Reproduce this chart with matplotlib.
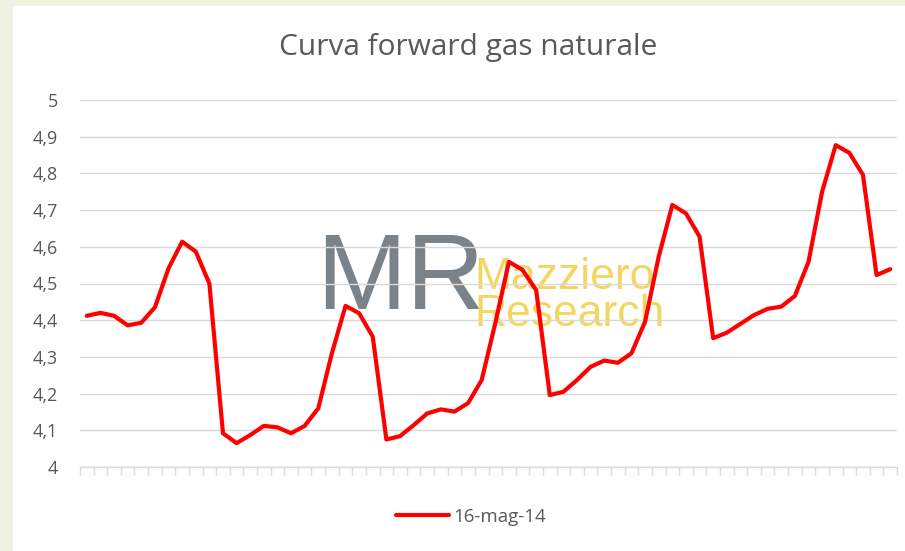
import matplotlib
matplotlib.use("Agg")
import matplotlib.pyplot as plt
from matplotlib.patches import Rectangle
import numpy as np

title = "Curva forward gas naturale"
series_label = "16-mag-14"
prices = [4.412, 4.420, 4.412, 4.386, 4.393, 4.435, 4.541, 4.614, 4.587, 4.500,
          4.092, 4.065, 4.087, 4.112, 4.108, 4.092, 4.112, 4.160, 4.310, 4.439,
          4.419, 4.355, 4.075, 4.084, 4.114, 4.146, 4.157, 4.151, 4.174, 4.237,
          4.392, 4.559, 4.537, 4.482, 4.196, 4.205, 4.237, 4.273, 4.290, 4.284,
          4.310, 4.396, 4.573, 4.714, 4.691, 4.628, 4.351, 4.366, 4.390, 4.414,
          4.431, 4.437, 4.466, 4.559, 4.750, 4.877, 4.856, 4.796, 4.523, 4.539]
y_ticks = [4.0, 4.1, 4.2, 4.3, 4.4, 4.5, 4.6, 4.7, 4.8, 4.9, 5.0]
y_ticklabels = ["4", "4,1", "4,2", "4,3", "4,4", "4,5", "4,6", "4,7", "4,8", "4,9", "5"]

W, H = 905, 551
fig = plt.figure(figsize=(W / 100, H / 100), dpi=100)
fig.patch.set_facecolor("#eff3e3")
fig.patches.append(Rectangle((13 / W, 0), 1 - 13 / W, 1 - 6 / H, transform=fig.transFigure,
                             facecolor="white", edgecolor="none", zorder=-5))

font = "Open Sans"
grey = "#595959"

ax = fig.add_axes([80 / W, 1 - 467 / H, (897 - 80) / W, (467 - 100) / H])
ax.set_facecolor("none")
n = len(prices)
x = np.arange(n)
line, = ax.plot(x, prices, color="#ff0000", lw=3.0, solid_joinstyle="round",
                solid_capstyle="round", zorder=3, label=series_label)
ax.set_xlim(-0.5, n - 0.5)
ax.set_ylim(4.0, 5.0)
ax.set_yticks(y_ticks)
ax.set_yticklabels(y_ticklabels, fontfamily=font, color=grey, fontsize=13)
ax.yaxis.grid(True, color="#d9d9d9", lw=1.0)
ax.set_axisbelow(False)
ax.set_xticks(np.arange(-0.5, n, 1.0))
ax.set_xticklabels([])
ax.tick_params(axis="x", length=6, color="#d9d9d9", width=1.0)
ax.tick_params(axis="y", length=0, pad=16)
for s in ["top", "right", "left"]:
    ax.spines[s].set_visible(False)
ax.spines["bottom"].set_color("#d9d9d9")
ax.spines["bottom"].set_linewidth(1.0)
for gl in ax.yaxis.get_gridlines():
    gl.set_zorder(1.5)

# watermark (inside axes so the line is drawn above it)
ax.text(316 / W, 1 - 281 / H, "MR", fontsize=78, color="#6f7780", alpha=0.92,
        family="Liberation Sans", va="center", ha="left", zorder=0.5,
        transform=fig.transFigure, clip_on=False)
ax.text(474 / W, 1 - 296 / H, "Mazziero\nResearch", fontsize=32, color="#f2cf45",
        alpha=0.85, family="Liberation Sans", va="center", ha="left",
        linespacing=0.85, zorder=0.5, transform=fig.transFigure, clip_on=False)

fig.text(468 / W, 1 - 48 / H, title, fontsize=21.5, color=grey, family=font,
         ha="center", va="center")

leg = fig.legend(handles=[line], loc="center", bbox_to_anchor=(471 / W, 1 - 517 / H),
                 frameon=False, prop={"family": font, "size": 13.5}, handlelength=2.8,
                 handletextpad=0.25)
for t in leg.get_texts():
    t.set_color(grey)

fig.savefig("out.png", dpi=100)
